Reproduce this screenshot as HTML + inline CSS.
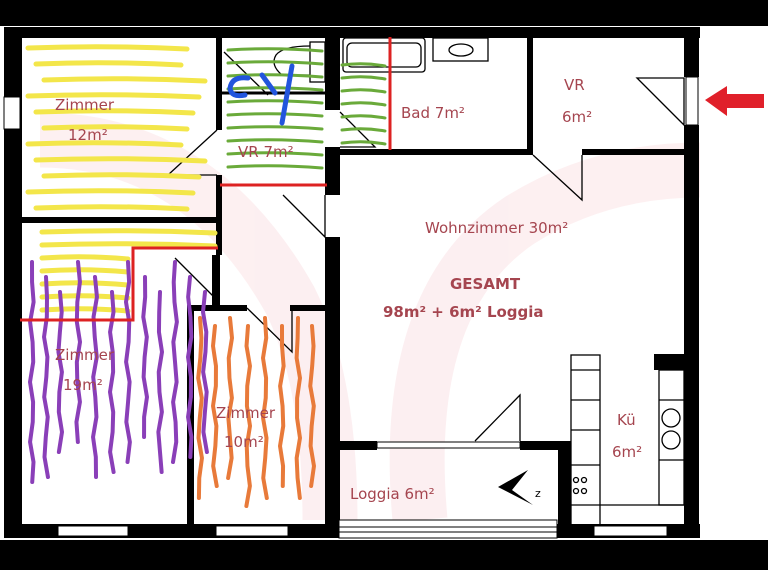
<!DOCTYPE html>
<html><head><meta charset="utf-8"><style>
html,body{margin:0;padding:0;background:#000;}
svg{display:block}
text{font-family:"DejaVu Sans","Liberation Sans",sans-serif;fill:#a5454f;}
</style></head><body>
<svg id="s" width="768" height="570" viewBox="0 0 768 570" xmlns="http://www.w3.org/2000/svg">
<rect x="0" y="0" width="768" height="570" fill="#000"/>
<rect x="0" y="26" width="768" height="514" fill="#fff"/>
<g fill="none" stroke="#fcecee" stroke-width="55" opacity="0.8">
<path d="M40 140 Q200 140 290 300 Q330 380 330 520"/>
<path d="M420 520 Q400 300 520 220 Q600 170 700 170"/>
</g>
<g id="walls" fill="#000">
<rect x="4" y="27" width="696" height="11"/>
<rect x="4" y="27" width="18" height="511"/>
<rect x="4" y="524" width="696" height="14"/>
<rect x="684" y="27" width="15" height="50"/>
<rect x="684" y="125" width="15" height="413"/>
<rect x="216" y="37" width="6" height="93"/>
<rect x="216" y="175" width="6" height="80"/>
<rect x="20" y="217" width="198" height="6"/>
<rect x="325" y="37" width="15" height="73"/>
<rect x="325" y="147" width="15" height="48"/>
<rect x="325" y="237" width="15" height="290"/>
<rect x="330" y="149" width="203" height="6"/>
<rect x="582" y="149" width="105" height="6"/>
<rect x="527" y="37" width="6" height="115"/>
<rect x="187" y="305" width="7" height="222"/>
<rect x="187" y="305" width="60" height="6"/>
<rect x="290" y="305" width="40" height="6"/>
<rect x="212" y="255" width="8" height="52"/>
<rect x="339" y="441" width="38" height="9"/>
<rect x="520" y="441" width="45" height="9"/>
<rect x="558" y="441" width="13" height="90"/>
<rect x="654" y="354" width="32" height="16"/>
</g>
<rect x="4" y="97" width="16" height="32" fill="#fff" stroke="#000"/>
<g fill="#fff" stroke="#000" stroke-width="1">
<rect x="58" y="526" width="70" height="10"/>
<rect x="216" y="526" width="72" height="10"/>
<rect x="594" y="526" width="73" height="10"/>
<rect x="339" y="520" width="218" height="18"/>
<line x1="339" y1="527" x2="557" y2="527"/>
<line x1="339" y1="532" x2="557" y2="532"/>
<rect x="377" y="442" width="143" height="6"/>
<rect x="686" y="77" width="12" height="48"/>
</g>
<g fill="none" stroke="#000" stroke-width="1.3">
<path d="M217 130 L168 175 L217 175"/>
<path d="M283 195 L325 237 L325 195"/>
<path d="M533 155 L582 200 L582 155"/>
<path d="M637 78 L684 125 L684 78 Z"/>
<path d="M340 112 L375 147 L340 147"/>
<path d="M224 52 L268 95"/>
<path d="M175 258 L217 300"/>
<path d="M247 308 L292 352 L292 308"/>
<path d="M475 441 L520 395 L520 441"/>
<rect x="343" y="38" width="82" height="34" rx="3"/>
<rect x="347" y="43" width="74" height="24" rx="5"/>
<rect x="433" y="38" width="55" height="23"/>
<ellipse cx="461" cy="50" rx="12" ry="6"/>
<rect x="310" y="42" width="15" height="40"/>
<path d="M310 46 Q283 46 276 55 Q270 65 282 75 L310 75"/>
<line x1="222" y1="93" x2="325" y2="93" stroke-width="3"/>
<rect x="571" y="355" width="29" height="170"/>
<line x1="571" y1="370" x2="600" y2="370"/>
<line x1="571" y1="400" x2="600" y2="400"/>
<line x1="571" y1="430" x2="600" y2="430"/>
<line x1="571" y1="465" x2="600" y2="465"/>
<line x1="571" y1="505" x2="684" y2="505"/>
<rect x="659" y="370" width="25" height="135"/>
<line x1="659" y1="400" x2="684" y2="400"/>
<line x1="659" y1="460" x2="684" y2="460"/>
<ellipse cx="671" cy="418" rx="9" ry="9"/>
<ellipse cx="671" cy="440" rx="9" ry="9"/>
<circle cx="576" cy="480" r="2.5"/><circle cx="584" cy="480" r="2.5"/>
<circle cx="576" cy="491" r="2.5"/><circle cx="584" cy="491" r="2.5"/>
</g>
<path d="M498 487 L528 470 L512 490 L533 505 Z" fill="#000"/>
<text x="535" y="497" font-size="11" style="fill:#000">z</text>
<g id="scr"></g>
<g stroke="#d22" stroke-width="3" fill="none">
<line x1="390" y1="37" x2="390" y2="150"/>
<line x1="220" y1="185" x2="327" y2="185"/>
<path d="M218 248 L133 248 L133 320 L20 320"/>
</g>
<g stroke="#2255dd" stroke-width="5" fill="none" stroke-linecap="round">
<path d="M248 78 Q232 76 230 88 Q231 98 245 95"/>
<path d="M262 75 L275 93"/><path d="M292 66 L282 123"/>
</g>
<path d="M705 100 L727 86 L727 94 L764 94 L764 108 L727 108 L727 116 Z" fill="#e0202a"/>
<g font-size="15">
<text x="55" y="110">Zimmer</text><text x="68" y="140">12m²</text>
<text x="238" y="157">VR 7m²</text>
<text x="401" y="118">Bad 7m²</text>
<text x="564" y="90">VR</text><text x="562" y="122">6m²</text>
<text x="425" y="233">Wohnzimmer 30m²</text>
<text x="450" y="289" font-weight="bold">GESAMT</text>
<text x="383" y="317" font-weight="bold">98m² + 6m² Loggia</text>
<text x="55" y="360">Zimmer</text><text x="63" y="390">19m²</text>
<text x="216" y="418">Zimmer</text><text x="224" y="447">10m²</text>
<text x="617" y="425">Kü</text><text x="612" y="457">6m²</text>
<text x="350" y="499">Loggia 6m²</text>
</g>
</svg>
<script>
var g=document.getElementById('scr'),h='';
function r(i){return Math.sin(i*12.9898)*0.5;}
function hl(x1,x2,y,c,w){h+='<path d="M'+x1+' '+y+' Q'+((x1+x2)/2)+' '+(y-3)+' '+x2+' '+(y+1)+'" stroke="'+c+'" stroke-width="'+w+'" fill="none" stroke-linecap="round"/>';}
function vl(x,y1,y2,c,w,k){var d='M'+x+' '+y1;for(var y=y1+20;y<=y2;y+=20){d+=' L'+(x+4*r(k+y))+' '+y;}h+='<path d="'+d+'" stroke="'+c+'" stroke-width="'+w+'" fill="none" stroke-linecap="round"/>';}
var Y='#f3e64a';
for(var y=48;y<215;y+=16){hl(28+(y%3)*8,205-(y%5)*6,y,Y,5);}
for(var y=232;y<316;y+=13){hl(42,y<250?215:128,y,Y,5);}
var G='#6aaa3a';
for(var y=50;y<180;y+=13){hl(228,322,y,G,3);}
for(var y=65;y<145;y+=13){hl(342,385,y,G,3);}
var P='#8a3fb8';
var px=[32,46,60,78,95,112,128,145,160,175,190,205];
px.forEach(function(x,i){vl(x,262+(i%3)*15,490-(i%4)*12,P,4,i);});
var O='#e87a3a';
[200,215,230,248,265,282,298,312].forEach(function(x,i){vl(x,318+(i%2)*8,515-(i%3)*10,O,4,i+20);});
g.innerHTML=h;
</script>
</body></html>
